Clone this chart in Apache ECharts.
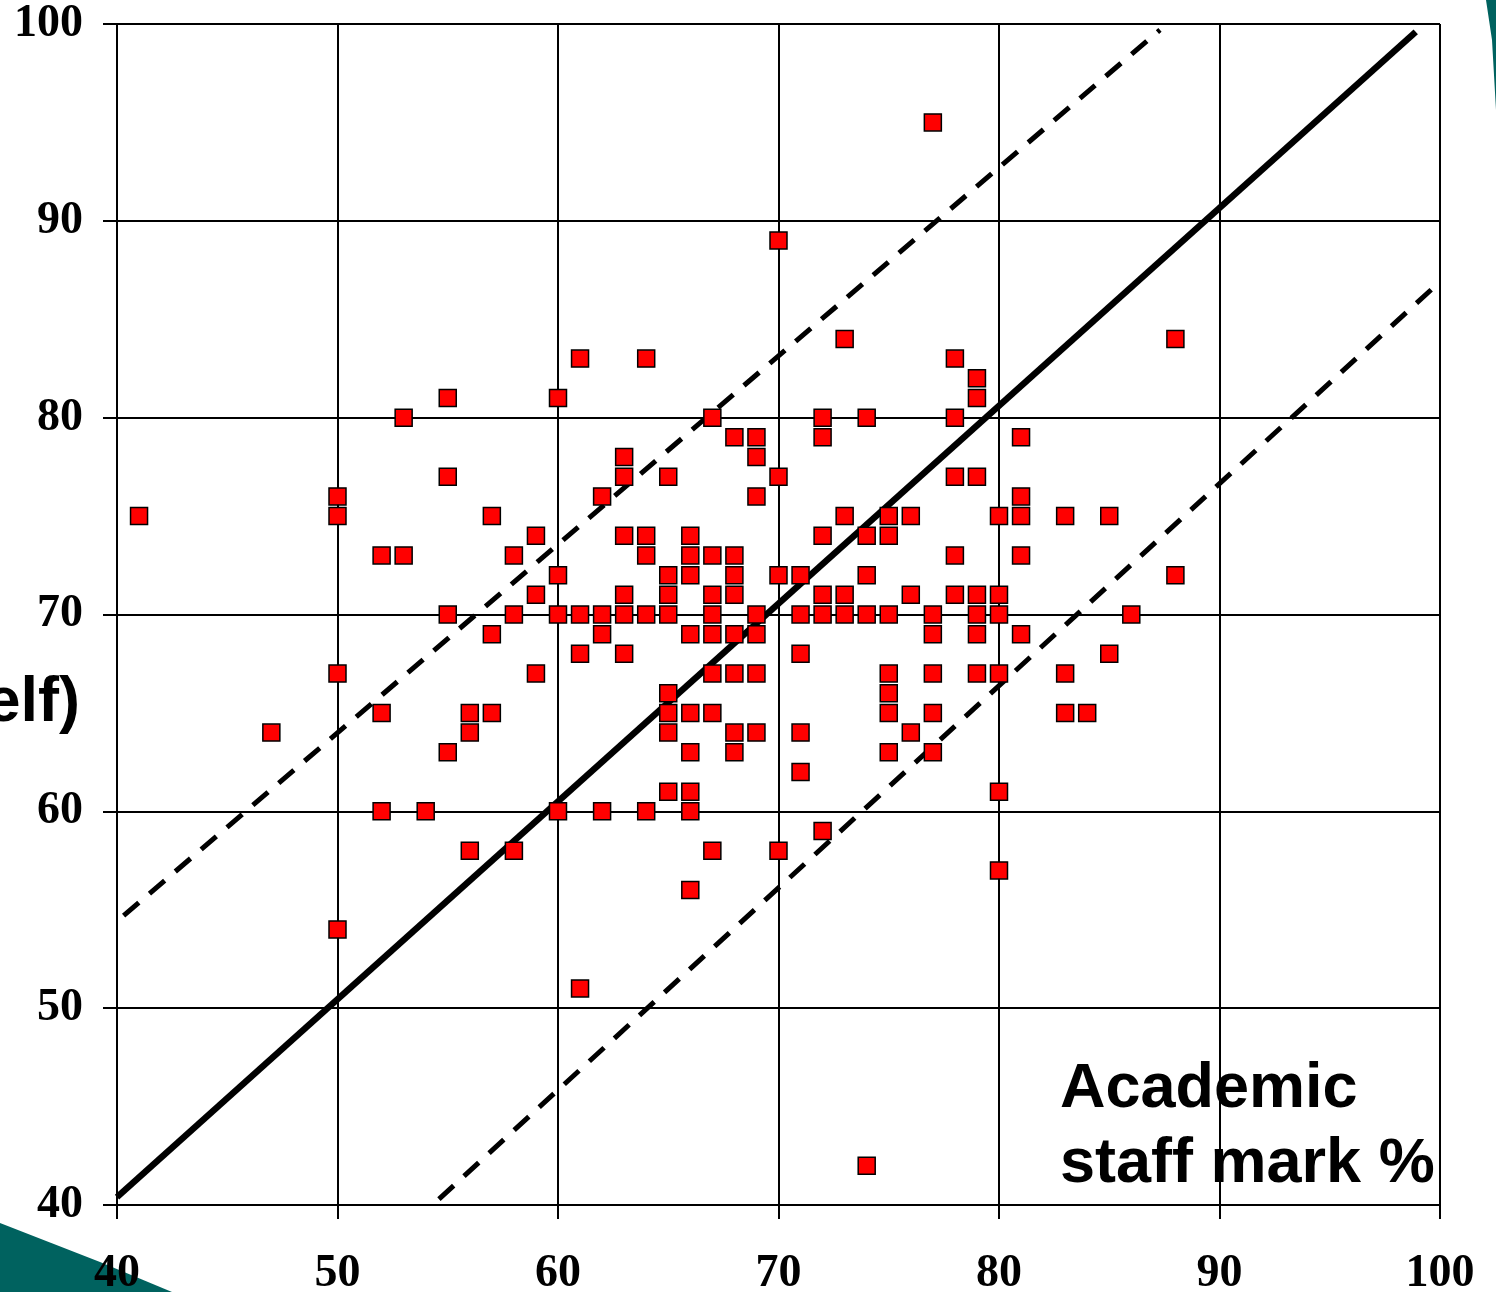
<!DOCTYPE html>
<html lang="en">
  <head>
    <meta charset="UTF-8" />
    <title>Self mark vs academic staff mark</title>
    <script src="https://cdn.jsdelivr.net/npm/echarts@6.0.0/dist/echarts.min.js"></script>
    <style>
      body { margin: 0; background: #fff; }
    </style>
  </head>
  <body>
    <div id="main" style="width: 1496px; height: 1292px"></div>
    <script type="text/javascript">
      // academic staff mark (x) and self mark (y), one entry per student
      const staffMark = [
        41, 47, 50, 50, 50, 50, 52, 53, 53, 52, 52, 54, 55, 55, 55, 55, 56, 56, 56, 57, 57, 57,
        58, 58, 58, 59, 59, 59, 60, 60, 60, 60, 61, 61, 61, 61, 62, 62, 62, 62, 63, 63, 63, 63,
        63, 63, 64, 64, 64, 64, 64, 65, 65, 65, 65, 65, 65, 65, 65, 66, 66, 66, 66, 66, 66, 66,
        66, 66, 67, 67, 67, 67, 67, 67, 67, 67, 68, 68, 68, 68, 68, 68, 68, 68, 69, 69, 69, 69,
        69, 69, 69, 70, 70, 70, 70, 71, 71, 71, 71, 71, 72, 72, 72, 72, 72, 72, 73, 73, 73, 73,
        74, 74, 74, 74, 74, 75, 75, 75, 75, 75, 75, 75, 76, 76, 76, 77, 77, 77, 77, 77, 77, 78,
        78, 78, 78, 78, 79, 79, 79, 79, 79, 79, 79, 80, 80, 80, 80, 80, 80, 81, 81, 81, 81, 81,
        83, 83, 83, 84, 85, 85, 86, 88, 88
      ];
      const selfMark = [
        75, 64, 76, 75, 67, 54, 73, 73, 80, 65, 60, 60, 81, 77, 70, 63, 65, 64, 58, 75, 69, 65,
        73, 70, 58, 74, 71, 67, 81, 72, 70, 60, 83, 70, 68, 51, 76, 70, 69, 60, 78, 77, 74, 71,
        70, 68, 83, 74, 73, 70, 60, 77, 72, 71, 70, 66, 65, 64, 61, 74, 73, 72, 69, 65, 63, 61,
        60, 56, 80, 73, 71, 70, 69, 67, 65, 58, 79, 73, 72, 71, 69, 67, 64, 63, 79, 78, 76, 70,
        69, 67, 64, 89, 77, 72, 58, 72, 70, 68, 64, 62, 80, 79, 74, 71, 70, 59, 84, 75, 71, 70,
        80, 74, 72, 70, 42, 75, 74, 70, 67, 66, 65, 63, 75, 71, 64, 95, 70, 69, 67, 65, 63, 83,
        80, 77, 73, 71, 82, 81, 77, 71, 70, 69, 67, 75, 71, 70, 67, 61, 57, 79, 76, 75, 73, 69,
        75, 67, 65, 65, 75, 68, 70, 84, 72
      ];

      // reference lines: agreement line and the two +/- bands
      const agreeLine = [[40, 40.4], [98.9, 99.6]];
      const upperBand = [[40.3, 54.7], [87.3, 99.7]];
      const lowerBand = [[54.6, 40.3], [99.6, 86.5]];

      const ticks = [40, 50, 60, 70, 80, 90, 100];

      const points = staffMark.map((x, i) => [x, selfMark[i]]);

      const axisFont = {
        fontFamily: "Liberation Serif",
        fontWeight: "bold",
        fontSize: 46,
        color: "#000"
      };
      const blackLine = { color: "#000", width: 2 };

      let myChart = echarts.init(document.getElementById("main"));

      let options = {
        animation: false,
        backgroundColor: "#fff",
        grid: {
          left: 117,
          top: 24,
          width: 1323,
          height: 1181,
          containLabel: false,
          outerBoundsMode: "none"
        },
        xAxis: {
          type: "value",
          min: ticks[0],
          max: ticks[ticks.length - 1],
          interval: 10,
          axisLine: { show: true, lineStyle: blackLine },
          axisTick: { show: true, length: 14, lineStyle: blackLine },
          splitLine: { show: true, lineStyle: blackLine },
          axisLabel: Object.assign({ margin: 46 }, axisFont)
        },
        yAxis: {
          type: "value",
          min: ticks[0],
          max: ticks[ticks.length - 1],
          interval: 10,
          axisLine: { show: true, lineStyle: blackLine },
          axisTick: { show: true, length: 14, lineStyle: blackLine },
          splitLine: { show: true, lineStyle: blackLine },
          axisLabel: Object.assign({ margin: 34 }, axisFont)
        },
        graphic: [
          {
            type: "polygon",
            z: -1,
            shape: { points: [[0, 1223], [100, 1262], [172, 1292], [0, 1292]] },
            style: { fill: "#00625f" }
          },
          {
            type: "polygon",
            z: -1,
            shape: { points: [[1486, 0], [1496, 0], [1496, 110], [1492, 40]] },
            style: { fill: "#00625f" }
          },
          {
            type: "text",
            z: 100,
            x: 80,
            y: 704,
            style: {
              text: "elf)",
              align: "right",
              verticalAlign: "middle",
              fontFamily: "Liberation Sans",
              fontWeight: "bold",
              fontSize: 63,
              fill: "#000"
            }
          },
          {
            type: "text",
            z: 100,
            x: 1060,
            y: 1090,
            style: {
              text: "Academic",
              align: "left",
              verticalAlign: "middle",
              fontFamily: "Liberation Sans",
              fontWeight: "bold",
              fontSize: 63,
              fill: "#000"
            }
          },
          {
            type: "text",
            z: 100,
            x: 1060,
            y: 1165,
            style: {
              text: "staff mark %",
              align: "left",
              verticalAlign: "middle",
              fontFamily: "Liberation Sans",
              fontWeight: "bold",
              fontSize: 63,
              fill: "#000"
            }
          }
        ],
        series: [
          {
            type: "line",
            data: agreeLine,
            symbol: "none",
            z: 2,
            lineStyle: { color: "#000", width: 6.5 }
          },
          {
            type: "line",
            data: upperBand,
            symbol: "none",
            z: 2,
            lineStyle: { color: "#000", width: 5, type: [20, 14] }
          },
          {
            type: "line",
            data: lowerBand,
            symbol: "none",
            z: 2,
            lineStyle: { color: "#000", width: 5, type: [20, 14] }
          },
          {
            name: "students",
            type: "scatter",
            data: points,
            symbol: "rect",
            symbolSize: 17,
            z: 3,
            itemStyle: { color: "#ff0000", borderColor: "#000", borderWidth: 1.5, opacity: 1 }
          }
        ]
      };

      myChart.setOption(options);
    </script>
  </body>
</html>
